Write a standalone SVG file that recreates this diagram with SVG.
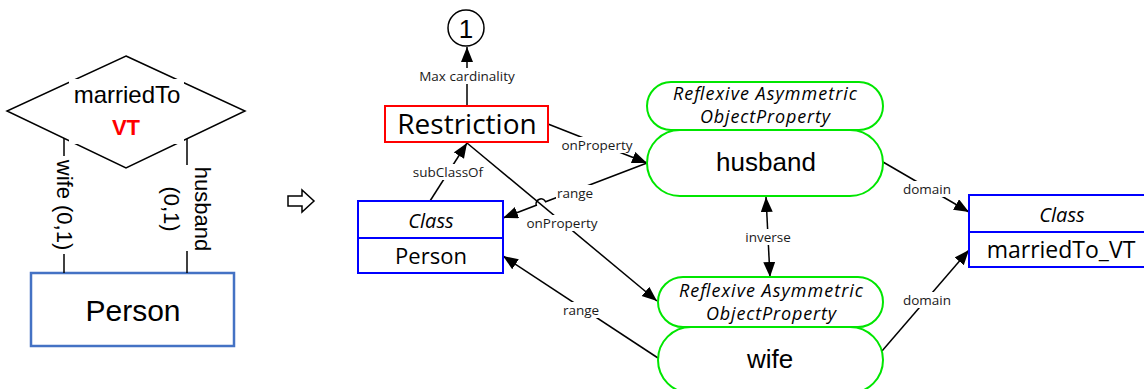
<svg xmlns="http://www.w3.org/2000/svg" width="1144" height="389" viewBox="0 0 1144 389">
  <style>
    .ln { fill: none; stroke: #000; stroke-width: 1.5; }
    .arr { marker-end: url(#ah); }
    .lbg { fill: #fff; }
    .lbl { font-family: "Open Sans", "Liberation Sans", sans-serif; font-size: 13.5px; fill: #1a1a1a; text-anchor: middle; dominant-baseline: central; }
    .er { font-family: "Liberation Sans", Arial, sans-serif; fill: #000; text-anchor: middle; }
    .ttl { font-family: "Open Sans", "Liberation Sans", sans-serif; fill: #000; text-anchor: middle; }
    .it { font-style: italic; }
    .prop { fill: #fff; stroke: #00e600; stroke-width: 2; }
    .cls { fill: #fff; stroke: #0000ff; stroke-width: 2; }
  </style>
  <defs>
    <marker id="ah" markerUnits="userSpaceOnUse" markerWidth="16" markerHeight="13" refX="15" refY="6" orient="auto-start-reverse">
      <path d="M0,0 L15,6 L0,12 z" fill="#000"/>
    </marker>
  </defs>
  <rect width="1144" height="389" fill="#fff"/>

  <!-- ER side: relationship diamond -->
  <g id="er-marriedTo">
    <polygon points="126,56 245,111 126,168 7,111" fill="#fff" stroke="#000" stroke-width="1.5"/>
    <rect x="69" y="79" width="115" height="65" fill="#fff"/>
    <text class="er" x="127" y="103" font-size="24">marriedTo</text>
    <text class="er" x="126" y="135" font-size="22" font-weight="bold" style="fill:#ff0000">VT</text>
  </g>

  <!-- ER side: entity -->
  <g id="er-person">
    <rect x="31" y="273" width="203" height="73" fill="#fff" stroke="#4472c4" stroke-width="2.5"/>
    <text class="er" x="133" y="321" font-size="30">Person</text>
  </g>

  <!-- ER side: role lines -->
  <g id="er-links">
    <line class="ln" x1="64" y1="138" x2="64" y2="273"/>
    <line class="ln" x1="187" y1="139" x2="187" y2="273"/>
    <rect x="53" y="156" width="22" height="98" fill="#fff"/>
    <rect x="158" y="165" width="56" height="86" fill="#fff"/>
    <g transform="translate(64,205) rotate(90)">
      <text class="er" x="0" y="0" font-size="22" dominant-baseline="central">wife (0,1)</text>
    </g>
    <g transform="translate(187,209) rotate(90)">
      <text class="er" x="0" y="-15" font-size="22" dominant-baseline="central">husband</text>
      <text class="er" x="0" y="16" font-size="22" dominant-baseline="central">(0,1)</text>
    </g>
  </g>

  <!-- transformation symbol -->
  <g id="transform-arrow">
    <polygon points="288,196 302,196 302,190 314,201 302,212 302,206 288,206" fill="#fff" stroke="#000" stroke-width="1.5" stroke-linejoin="miter"/>
  </g>

  <!-- ontology side: connectors -->
  <g id="connectors">
    <!-- max cardinality -->
    <line class="ln arr" x1="467" y1="106" x2="467" y2="47"/>
    <rect class="lbg" x="418" y="68" width="98" height="16"/>
    <text class="lbl" x="467" y="76">Max cardinality</text>

    <!-- subClassOf -->
    <line class="ln arr" x1="430" y1="201" x2="467" y2="143"/>
    <rect class="lbg" x="413" y="164" width="70" height="16"/>
    <text class="lbl" x="448" y="172">subClassOf</text>

    <!-- onProperty: restriction to husband -->
    <line class="ln arr" x1="548" y1="124" x2="647" y2="163"/>
    <rect class="lbg" x="559" y="137" width="76" height="16"/>
    <text class="lbl" x="597" y="145">onProperty</text>

    <!-- onProperty: restriction to wife -->
    <line class="ln arr" x1="467" y1="143" x2="657" y2="301"/>
    <rect class="lbg" x="524" y="215" width="76" height="16"/>
    <text class="lbl" x="562" y="223">onProperty</text>

    <!-- range: husband to Person, hopping over the onProperty line -->
    <path class="ln arr" d="M647,163 L545.6,201.7 A5,5 0 0 0 536.3,205.3 L503,218"/>
    <rect class="lbg" x="556" y="185" width="38" height="16"/>
    <text class="lbl" x="575" y="193">range</text>

    <!-- range: wife to Person -->
    <line class="ln arr" x1="658" y1="358" x2="503" y2="256"/>
    <rect class="lbg" x="562" y="302" width="38" height="16"/>
    <text class="lbl" x="581" y="310">range</text>

    <!-- inverse -->
    <line class="ln arr" x1="766" y1="197" x2="770" y2="277" marker-start="url(#ah)"/>
    <rect class="lbg" x="745" y="229" width="46" height="16"/>
    <text class="lbl" x="768" y="237">inverse</text>

    <!-- domain: husband -->
    <line class="ln arr" x1="883" y1="162" x2="969" y2="212"/>
    <rect class="lbg" x="902" y="181" width="51" height="16"/>
    <text class="lbl" x="927" y="189">domain</text>

    <!-- domain: wife -->
    <line class="ln arr" x1="882" y1="351" x2="969" y2="250"/>
    <rect class="lbg" x="902" y="292" width="51" height="16"/>
    <text class="lbl" x="927" y="300">domain</text>
  </g>

  <!-- cardinality value -->
  <g id="card-1">
    <circle cx="466" cy="28" r="18" fill="#fff" stroke="#000" stroke-width="1.5"/>
    <text class="er" x="466" y="38" font-size="26">1</text>
  </g>

  <!-- restriction -->
  <g id="restriction">
    <rect x="385" y="106" width="163" height="36" fill="#fff" stroke="#ff0000" stroke-width="2"/>
    <text class="ttl" x="467" y="134" font-size="28">Restriction</text>
  </g>

  <!-- class Person -->
  <g id="class-person">
    <rect class="cls" x="358" y="201" width="145" height="72"/>
    <line x1="358" y1="238" x2="503" y2="238" stroke="#0000ff" stroke-width="2"/>
    <text class="ttl it" x="431" y="228" font-size="20">Class</text>
    <text class="ttl" x="431" y="264" font-size="22">Person</text>
  </g>

  <!-- object property husband -->
  <g id="prop-husband">
    <rect class="prop" x="647" y="82" width="236" height="48" rx="24" ry="24"/>
    <text class="ttl it" x="765" y="100" font-size="18" textLength="184" lengthAdjust="spacing">Reflexive Asymmetric</text>
    <text class="ttl it" x="765" y="123" font-size="18" textLength="130" lengthAdjust="spacing">ObjectProperty</text>
    <rect class="prop" x="647" y="130" width="236" height="66" rx="33" ry="33"/>
    <text class="er" x="766" y="171" font-size="26">husband</text>
  </g>

  <!-- object property wife -->
  <g id="prop-wife">
    <rect class="prop" x="658" y="277" width="225" height="50" rx="25" ry="25"/>
    <text class="ttl it" x="771" y="297" font-size="18" textLength="184" lengthAdjust="spacing">Reflexive Asymmetric</text>
    <text class="ttl it" x="771" y="320" font-size="18" textLength="130" lengthAdjust="spacing">ObjectProperty</text>
    <rect class="prop" x="658" y="327" width="225" height="66" rx="33" ry="33"/>
    <text class="er" x="770" y="368" font-size="26">wife</text>
  </g>

  <!-- class marriedTo_VT -->
  <g id="class-marriedTo-VT">
    <rect class="cls" x="969" y="195" width="184" height="72"/>
    <line x1="969" y1="232" x2="1153" y2="232" stroke="#0000ff" stroke-width="2"/>
    <text class="ttl it" x="1062" y="222" font-size="20">Class</text>
    <text class="ttl" x="1061" y="258" font-size="23">marriedTo_VT</text>
  </g>
</svg>
